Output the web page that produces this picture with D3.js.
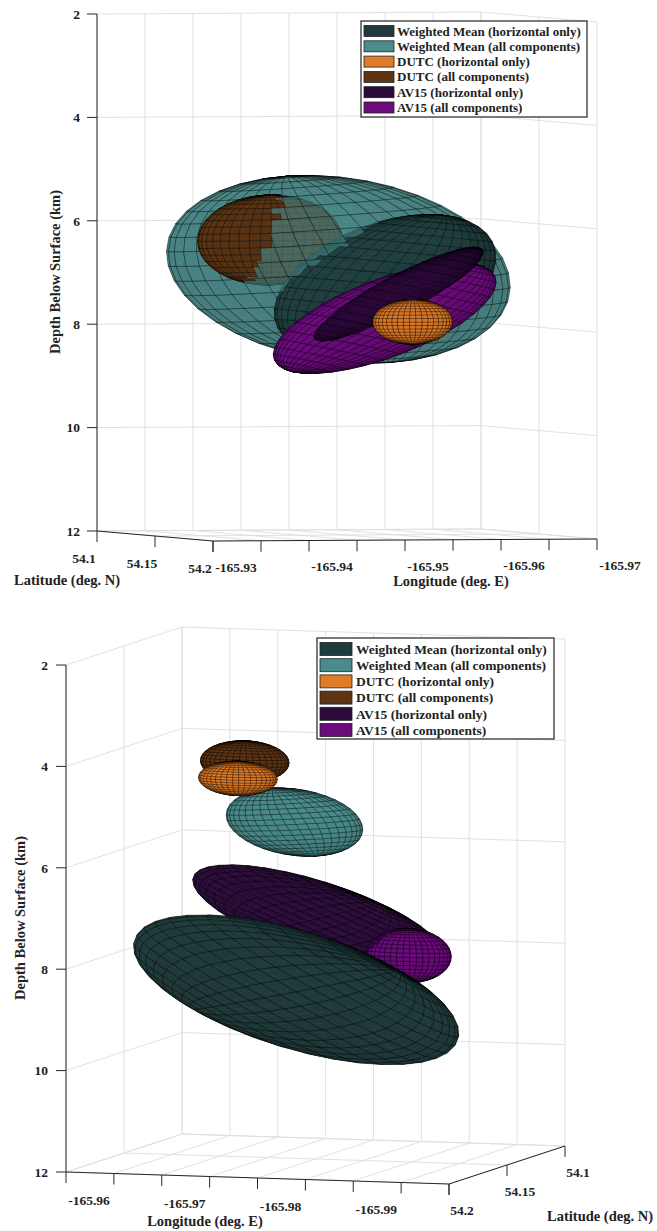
<!DOCTYPE html>
<html>
<head>
<meta charset="utf-8">
<script src="https://cdn.jsdelivr.net/npm/d3@7"></script>
<style>
  body { margin: 0; background: #fff; }
  text { font-family: "Liberation Serif", "Times New Roman", serif; font-weight: bold; fill: #222; }
</style>
</head>
<body>
<script>
// ---- series (same order in both panels) ----
const seriesNames = [
  "Weighted Mean (horizontal only)",
  "Weighted Mean (all components)",
  "DUTC (horizontal only)",
  "DUTC (all components)",
  "AV15 (horizontal only)",
  "AV15 (all components)"
];
const seriesColors = ["#1f3b3b", "#4a8c8c", "#e07b28", "#5e3514", "#2b0a3a", "#6b0b7c"];

const depthTicks = [2, 4, 6, 8, 10, 12];

// ---- top panel: ellipsoid centres (deg, km) and semi-axes (km), angles (deg) ----
const topLon     = [-165.9518, -165.9491, -165.9514, -165.9405, -165.9510, -165.9503];
const topLat     = [54.168, 54.15, 54.195, 54.162, 54.186, 54.18];
const topDepth   = [7.13, 6.86, 7.79, 6.26, 7.28, 7.75];
const topSemiA   = [0.67, 1.12, 0.27, 0.25, 0.22, 0.50];
const topSemiB   = [1.0, 2.5, 0.3, 1.2, 0.7, 1.0];
const topSemiC   = [1.40, 1.84, 0.43, 0.87, 1.05, 1.2];
const topAzimuth = [0, 0, 0, -25, 0, 0];
const topPlunge  = [-15.8, 10.8, 0, 0, -31, -31];
const topLatTicks  = [54.1, 54.15, 54.2];
const topLatLabels = ["54.1", "54.15", "54.2"];
const topLonTicks  = [-165.93, -165.935, -165.94, -165.945, -165.95, -165.955, -165.96, -165.965, -165.97];
const topLonLabels = ["-165.93", "", "-165.94", "", "-165.95", "", "-165.96", "", "-165.97"];

// ---- bottom panel ----
const botLon     = [-165.9804, -165.9778, -165.9725, -165.9714, -165.9797, -165.9897];
const botLat     = [54.17, 54.15, 54.155, 54.14, 54.145, 54.15];
const botDepth   = [8.51, 5.37, 4.50, 4.29, 7.28, 7.93];
const botSemiA   = [1.60, 0.45, 0.265, 0.30, 1.2, 0.29];
const botSemiB   = [1.5, 0.8, 0.5, 0.5, 1.0, 0.5];
const botSemiC   = [0.82, 0.67, 0.335, 0.41, 0.52, 0.53];
const botAzimuth = [0, 0, 0, 0, 0, 0];
const botPlunge  = [-57.6, 11.9, 0, 0, -51.2, 0];
const botLatTicks  = [54.2, 54.15, 54.1];
const botLatLabels = ["54.2", "54.15", "54.1"];
const botLonTicks  = [-165.96, -165.965, -165.97, -165.975, -165.98, -165.985, -165.99, -165.995, -166.0];
const botLonLabels = ["-165.96", "", "-165.97", "", "-165.98", "", "-165.99", "", ""];

const W = 657, H = 1231;
const svg = d3.select("body").append("svg").attr("width", W).attr("height", H);

function cross(a, b) { return [a[1]*b[2]-a[2]*b[1], a[2]*b[0]-a[0]*b[2], a[0]*b[1]-a[1]*b[0]]; }
function dot(a, b) { return a[0]*b[0] + a[1]*b[1] + a[2]*b[2]; }

// orthographic box: screen vectors of the three axes -> projection + depth
function makeView(cfg) {
  const su = d3.scaleLinear().domain(cfg.latDomain).range([0, 1]);
  const sv = d3.scaleLinear().domain(cfg.lonDomain).range([0, 1]);
  const sw = d3.scaleLinear().domain([12, 2]).range([0, 1]);
  const vecs = [cfg.vecLat, cfg.vecLon, cfg.vecDep];
  const up = vecs.map(c => [c[0], -c[1]]);
  const e1 = up.map(c => c[0]*c[1]);
  const e2 = up.map(c => c[0]*c[0] - c[1]*c[1]);
  let k = cross(e1, e2);
  if (k[0] < 0) k = k.map(x => -x);
  const L = k.map(x => 1 / Math.sqrt(Math.abs(x)));
  const m1 = up.map((c, i) => c[0] / L[i]);
  const m2 = up.map((c, i) => c[1] / L[i]);
  const s = Math.sqrt(dot(m1, m1));
  let dz = cross(m1, m2).map((x, i) => x / s * L[i]);
  if (dz[2] < 0) dz = dz.map(x => -x);
  function project(lat, lon, dep) {
    const u = su(lat), v = sv(lon), w = sw(dep);
    return [
      cfg.origin[0] + u*vecs[0][0] + v*vecs[1][0] + w*vecs[2][0],
      cfg.origin[1] + u*vecs[0][1] + v*vecs[1][1] + w*vecs[2][1],
      u*dz[0] + v*dz[1] + w*dz[2]
    ];
  }
  return { su, sv, sw, dz, project };
}

function ellipsoidQuads(view, e, si, alpha) {
  const nTh = 40, nPh = 20;
  const kmLat = 111.19, kmLon = 111.19 * Math.cos(e.lat * Math.PI / 180);
  const az = e.az * Math.PI / 180, pl = e.pl * Math.PI / 180;
  const ax1 = [Math.cos(pl)*Math.cos(az), Math.cos(pl)*Math.sin(az), Math.sin(pl)];
  const ax2 = [-Math.sin(az), Math.cos(az), 0];
  const ax3 = [-Math.sin(pl)*Math.cos(az), -Math.sin(pl)*Math.sin(az), Math.cos(pl)];
  const grid = [];
  for (let i = 0; i <= nPh; i++) {
    const ph = -Math.PI/2 + Math.PI * i / nPh;
    const row = [];
    for (let j = 0; j <= nTh; j++) {
      const th = 2 * Math.PI * j / nTh;
      const x = e.a*Math.cos(ph)*Math.cos(th), y = e.b*Math.cos(ph)*Math.sin(th), z = e.c*Math.sin(ph);
      const E = x*ax1[0] + y*ax2[0] + z*ax3[0];
      const N = x*ax1[1] + y*ax2[1] + z*ax3[1];
      const D = x*ax1[2] + y*ax2[2] + z*ax3[2];
      row.push(view.project(e.lat + N/kmLat, e.lon + E/kmLon, e.dep + D));
    }
    grid.push(row);
  }
  const c0 = view.project(e.lat, e.lon, e.dep);
  const light = [-0.4, 0.6, 1];
  const ll = Math.sqrt(dot(light, light));
  const base = d3.rgb(seriesColors[si]);
  const backAlpha = 1 - (1 - alpha) * 0.25;
  const quads = [];
  for (let i = 0; i < nPh; i++) {
    for (let j = 0; j < nTh; j++) {
      const p = [grid[i][j], grid[i][j+1], grid[i+1][j+1], grid[i+1][j]];
      const cam = p.map(q => [q[0], -q[1], q[2]]);
      const a = cam[2].map((v, t) => v - cam[0][t]);
      const b = cam[3].map((v, t) => v - cam[1][t]);
      let n = cross(a, b);
      const cen = [0, 1, 2].map(t => d3.mean(cam, q => q[t]));
      const out = [cen[0] - c0[0], cen[1] + c0[1], cen[2] - c0[2]];
      if (dot(n, out) < 0) n = n.map(x => -x);
      const nl = Math.sqrt(dot(n, n)) || 1;
      const ndl = dot(n, light) / (nl * ll);
      const front = n[2] >= 0;
      const shade = front ? 0.88 + 0.12 * Math.max(0, ndl) : 0.8;
      const col = d3.rgb(base.r*shade, base.g*shade, base.b*shade);
      quads.push({ p, z: cen[2], fill: col.formatHex(),
                   alpha: front ? alpha : backAlpha,
                   edge: front || alpha === 1 ? 0.6 : 0.15 });
    }
  }
  return quads;
}

function drawPanel(cfg) {
  const view = makeView(cfg);
  const g = svg.append("g");
  const P = view.project;
  const latD = cfg.latDomain, lonD = cfg.lonDomain;
  const farLat = view.dz[0] > 0 ? latD[0] : latD[1];
  const farLon = view.dz[1] > 0 ? lonD[0] : lonD[1];
  const segs = [];
  // back wall at constant latitude
  cfg.lonTicks.forEach(lo => segs.push([P(farLat, lo, 12), P(farLat, lo, 2)]));
  depthTicks.forEach(d => segs.push([P(farLat, lonD[0], d), P(farLat, lonD[1], d)]));
  // back wall at constant longitude
  cfg.latTicks.forEach(la => segs.push([P(la, farLon, 12), P(la, farLon, 2)]));
  depthTicks.forEach(d => segs.push([P(latD[0], farLon, d), P(latD[1], farLon, d)]));
  // floor
  cfg.lonTicks.forEach(lo => segs.push([P(latD[0], lo, 12), P(latD[1], lo, 12)]));
  cfg.latTicks.forEach(la => segs.push([P(la, lonD[0], 12), P(la, lonD[1], 12)]));
  g.append("g").selectAll("line").data(segs).join("line")
    .attr("x1", s => s[0][0]).attr("y1", s => s[0][1])
    .attr("x2", s => s[1][0]).attr("y2", s => s[1][1])
    .attr("stroke", "#dedede").attr("stroke-width", 0.9);

  // axis lines
  const ax = g.append("g").attr("stroke", "#262626").attr("stroke-width", 1).attr("fill", "none");
  const dA = [P(cfg.depthAxisAt[0], cfg.depthAxisAt[1], 12), P(cfg.depthAxisAt[0], cfg.depthAxisAt[1], 2)];
  const laA = [P(latD[0], cfg.latAxisLon, 12), P(latD[1], cfg.latAxisLon, 12)];
  const loA = [P(cfg.lonAxisLat, lonD[0], 12), P(cfg.lonAxisLat, lonD[1], 12)];
  [dA, laA, loA].forEach(s => ax.append("line")
    .attr("x1", s[0][0]).attr("y1", s[0][1]).attr("x2", s[1][0]).attr("y2", s[1][1]));

  // depth ticks
  depthTicks.forEach(d => {
    const p = P(cfg.depthAxisAt[0], cfg.depthAxisAt[1], d);
    ax.append("line").attr("x1", p[0] - 10).attr("y1", p[1]).attr("x2", p[0]).attr("y2", p[1]);
    g.append("text").attr("x", p[0] - cfg.depthLabelGap).attr("y", p[1]).attr("dy", "0.35em")
      .attr("text-anchor", "end").style("font-size", "13.5px").text(d);
  });
  // latitude ticks
  cfg.latTicks.forEach((la, i) => {
    const p = P(la, cfg.latAxisLon, 12);
    ax.append("line").attr("x1", p[0]).attr("y1", p[1]).attr("x2", p[0]).attr("y2", p[1] + 11);
    g.append("text").attr("x", p[0] + cfg.latLabelOff[0]).attr("y", p[1] + cfg.latLabelOff[1])
      .attr("dy", "0.35em").attr("text-anchor", "middle").style("font-size", "13.5px").text(cfg.latLabels[i]);
  });
  // longitude ticks
  cfg.lonTicks.forEach((lo, i) => {
    const p = P(cfg.lonAxisLat, lo, 12);
    ax.append("line").attr("x1", p[0]).attr("y1", p[1]).attr("x2", p[0]).attr("y2", p[1] + 11);
    if (cfg.lonLabels[i]) g.append("text").attr("x", p[0] + cfg.lonLabelOff[0]).attr("y", p[1] + cfg.lonLabelOff[1])
      .attr("dy", "0.35em").attr("text-anchor", "middle").style("font-size", "13.5px").text(cfg.lonLabels[i]);
  });
  // axis titles
  g.append("text").attr("x", cfg.latTitle[0]).attr("y", cfg.latTitle[1]).attr("dy", "0.35em")
    .attr("text-anchor", "middle").style("font-size", "14.5px").text("Latitude (deg. N)");
  g.append("text").attr("x", cfg.lonTitle[0]).attr("y", cfg.lonTitle[1]).attr("dy", "0.35em")
    .attr("text-anchor", "middle").style("font-size", "14.5px").text("Longitude (deg. E)");
  g.append("text").attr("transform", `translate(${cfg.depTitle[0]},${cfg.depTitle[1]}) rotate(-90)`)
    .attr("dy", "0.35em").attr("text-anchor", "middle").style("font-size", "14.5px").text("Depth Below Surface (km)");

  // ellipsoids, painter's order
  let quads = [];
  seriesNames.forEach((nm, i) => {
    const e = { lon: cfg.lon[i], lat: cfg.lat[i], dep: cfg.depth[i], a: cfg.semiA[i], b: cfg.semiB[i],
                c: cfg.semiC[i], az: cfg.azimuth[i], pl: cfg.plunge[i] };
    quads = quads.concat(ellipsoidQuads(view, e, i, cfg.alpha[i]));
  });
  quads.sort((q1, q2) => q1.z - q2.z);
  g.append("g").selectAll("path").data(quads).join("path")
    .attr("d", q => "M" + q.p.map(p => p[0].toFixed(2) + "," + p[1].toFixed(2)).join("L") + "Z")
    .attr("fill", q => q.fill).attr("fill-opacity", q => q.alpha)
    .attr("stroke", "#000").attr("stroke-opacity", q => q.edge).attr("stroke-width", 0.5);

  // legend
  const lg = cfg.legend;
  const leg = g.append("g");
  leg.append("rect").attr("x", lg.x).attr("y", lg.y).attr("width", lg.w).attr("height", lg.h)
    .attr("fill", "#fff").attr("stroke", "#333").attr("stroke-width", 1.3);
  seriesNames.forEach((nm, i) => {
    const cy = lg.y + lg.first + i * lg.pitch;
    leg.append("rect").attr("x", lg.x + 3).attr("y", cy - lg.sw / 2).attr("width", lg.swW).attr("height", lg.sw)
      .attr("fill", seriesColors[i]).attr("stroke", "#222").attr("stroke-width", 0.8);
    leg.append("text").attr("x", lg.x + lg.textX).attr("y", cy).attr("dy", "0.35em")
      .style("font-size", lg.fs + "px").text(nm);
  });
}

drawPanel({
  latDomain: [54.1, 54.2], lonDomain: [-165.93, -165.97],
  origin: [97, 531], vecLat: [116, 10], vecLon: [384, -2], vecDep: [0, -517],
  depthAxisAt: [54.1, -165.93], latAxisLon: -165.93, lonAxisLat: 54.2,
  latTicks: topLatTicks, latLabels: topLatLabels, lonTicks: topLonTicks, lonLabels: topLonLabels,
  depthLabelGap: 17, latLabelOff: [-13, 27], lonLabelOff: [23, 26],
  latTitle: [67, 580], lonTitle: [451, 581], depTitle: [55, 272],
  lon: topLon, lat: topLat, depth: topDepth, semiA: topSemiA, semiB: topSemiB, semiC: topSemiC,
  azimuth: topAzimuth, plunge: topPlunge, alpha: [0.88, 0.62, 1, 1, 0.92, 1],
  legend: { x: 361, y: 21, w: 226, h: 96, first: 10, pitch: 15.3, sw: 11, swW: 30, textX: 36, fs: 13 }
});

drawPanel({
  latDomain: [54.2, 54.1], lonDomain: [-165.96, -166.0],
  origin: [66, 1172], vecLat: [116, -38], vecLon: [383, 12], vecDep: [0, -507],
  depthAxisAt: [54.2, -165.96], latAxisLon: -166.0, lonAxisLat: 54.2,
  latTicks: botLatTicks, latLabels: botLatLabels, lonTicks: botLonTicks, lonLabels: botLonLabels,
  depthLabelGap: 18, latLabelOff: [13, 26], lonLabelOff: [23, 28],
  latTitle: [600, 1216], lonTitle: [205, 1221], depTitle: [20, 918],
  lon: botLon, lat: botLat, depth: botDepth, semiA: botSemiA, semiB: botSemiB, semiC: botSemiC,
  azimuth: botAzimuth, plunge: botPlunge, alpha: [0.82, 0.95, 1, 1, 0.8, 1],
  legend: { x: 317, y: 638, w: 237, h: 101, first: 11, pitch: 16.2, sw: 13, swW: 32, textX: 39, fs: 13.5 }
});
</script>
</body>
</html>
